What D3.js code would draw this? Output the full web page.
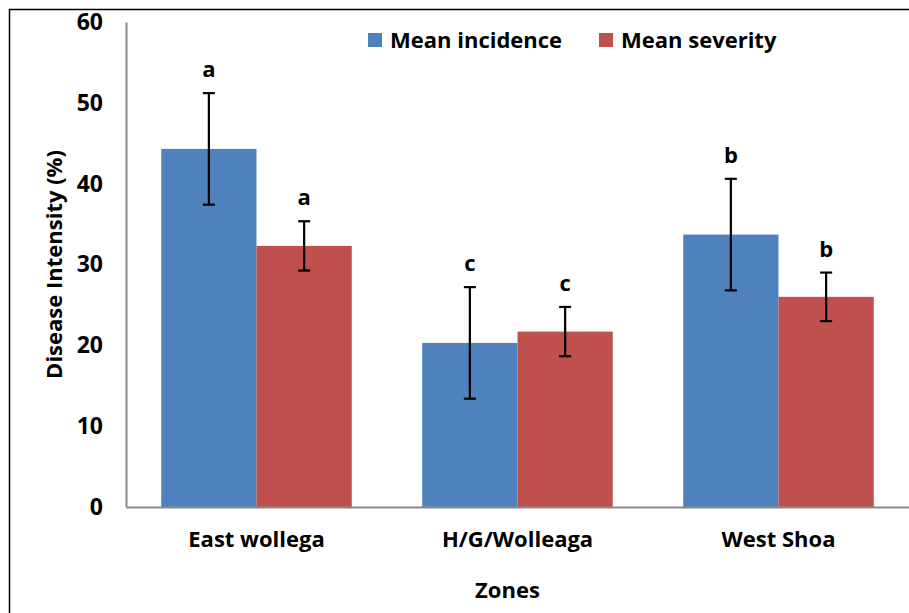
<!DOCTYPE html>
<html>
<head>
<meta charset="utf-8">
<script src="https://cdn.jsdelivr.net/npm/d3@7"></script>
<style>
  html, body { margin: 0; padding: 0; background: #fff; }
  svg { display: block; font-family: "Open Sans", sans-serif; font-weight: bold; }
</style>
</head>
<body>
<div id="chart"></div>
<script>
// values
const zones = ['East wollega', 'H/G/Wolleaga', 'West Shoa']
const seriesNames = ['Mean incidence', 'Mean severity']
const incidence = [44.3, 20.3, 33.7]
const incidenceErr = [6.9, 6.9, 6.9]
const severity = [32.3, 21.7, 26.0]
const severityErr = [3.05, 3.05, 3.0]
const incidenceLetters = ['a', 'c', 'b']
const severityLetters = ['a', 'c', 'b']
const yTicks = [0, 10, 20, 30, 40, 50, 60]

const colors = { 'Mean incidence': '#4f81bd', 'Mean severity': '#c0504d' }

const W = 909, H = 613
const margin = { top: 22, right: 0, bottom: 106, left: 126 }

// rows for the bars
const rows = []
zones.forEach((z, i) => {
  rows.push({ zone: z, series: seriesNames[0], value: incidence[i], err: incidenceErr[i], letter: incidenceLetters[i] })
  rows.push({ zone: z, series: seriesNames[1], value: severity[i], err: severityErr[i], letter: severityLetters[i] })
})

const svg = d3.select('#chart').append('svg')
  .attr('width', W)
  .attr('height', H)

// outer frame, right and bottom edges fall outside the picture
svg.append('rect')
  .attr('x', 9.5).attr('y', 9.5)
  .attr('width', 1000).attr('height', 1000)
  .attr('fill', 'none')
  .attr('stroke', '#000')
  .attr('stroke-width', 1.5)

const x0 = d3.scaleBand()
  .domain(zones)
  .range([margin.left, W - margin.right])
  .paddingInner(0.27)
  .paddingOuter(0.135)

const x1 = d3.scaleBand()
  .domain(seriesNames)
  .range([0, x0.bandwidth()])

const y = d3.scaleLinear()
  .domain([0, 60])
  .range([H - margin.bottom, margin.top])

// bars
svg.append('g').selectAll('rect')
  .data(rows)
  .join('rect')
  .attr('x', d => x0(d.zone) + x1(d.series))
  .attr('y', d => y(d.value))
  .attr('width', x1.bandwidth())
  .attr('height', d => y(0) - y(d.value))
  .attr('fill', d => colors[d.series])

// axes
const yAxis = svg.append('g')
  .attr('transform', `translate(${margin.left},0)`)
  .call(d3.axisLeft(y).tickValues(yTicks).tickSize(0).tickPadding(23))
yAxis.select('.domain').attr('stroke', '#898989').attr('stroke-width', 2)
yAxis.selectAll('text')
  .attr('font-family', '"Open Sans", sans-serif')
  .attr('font-weight', 'bold')
  .attr('font-size', 23)
  .attr('fill', '#000')

const xAxis = svg.append('g')
  .attr('transform', `translate(0,${y(0)})`)
  .call(d3.axisBottom(x0).tickSize(0).tickPadding(24))
xAxis.select('.domain').attr('stroke', '#898989').attr('stroke-width', 2)
xAxis.selectAll('text')
  .attr('font-family', '"Open Sans", sans-serif')
  .attr('font-weight', 'bold')
  .attr('font-size', 22)
  .attr('fill', '#000')

// error bars
const eb = svg.append('g').attr('stroke', '#000').attr('stroke-width', 2.2)
rows.forEach(d => {
  const cx = x0(d.zone) + x1(d.series) + x1.bandwidth() / 2
  const t = y(d.value + d.err), b = y(d.value - d.err)
  eb.append('line').attr('x1', cx).attr('x2', cx).attr('y1', t).attr('y2', b)
  eb.append('line').attr('x1', cx - 6).attr('x2', cx + 6).attr('y1', t).attr('y2', t)
  eb.append('line').attr('x1', cx - 6).attr('x2', cx + 6).attr('y1', b).attr('y2', b)
})

// significance letters
svg.append('g').selectAll('text')
  .data(rows)
  .join('text')
  .attr('x', d => x0(d.zone) + x1(d.series) + x1.bandwidth() / 2)
  .attr('y', d => y(d.value + d.err) - 16)
  .attr('text-anchor', 'middle')
  .attr('font-size', 22)
  .text(d => d.letter)

// axis titles
svg.append('text')
  .attr('transform', `translate(62,${(y(0) + y(60)) / 2}) rotate(-90)`)
  .attr('text-anchor', 'middle')
  .attr('font-size', 22)
  .text('Disease Intensity (%)')

svg.append('text')
  .attr('x', (x0.range()[0] + x0.range()[1]) / 2 - 10)
  .attr('y', 598)
  .attr('text-anchor', 'middle')
  .attr('font-size', 22)
  .text('Zones')

// legend
const legendX = [368, 599]
const lg = svg.append('g').selectAll('g')
  .data(seriesNames)
  .join('g')
  .attr('transform', (d, i) => `translate(${legendX[i]},33)`)
lg.append('rect')
  .attr('width', 14).attr('height', 14)
  .attr('fill', d => colors[d])
lg.append('text')
  .attr('x', 22).attr('y', 15)
  .attr('font-size', 22)
  .text(d => d)
</script>
</body>
</html>
